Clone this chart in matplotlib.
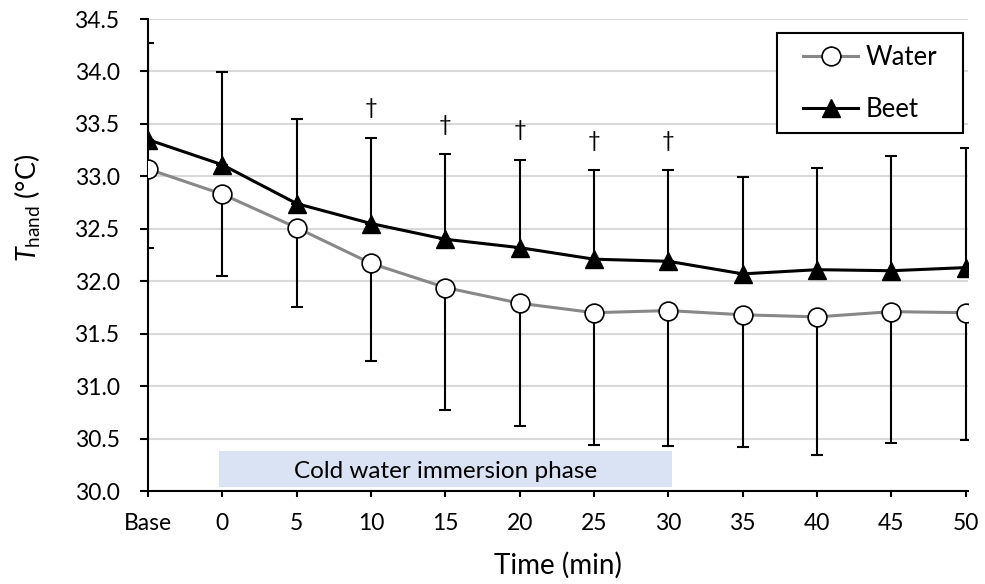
import numpy as np
import matplotlib
matplotlib.use("Agg")
import matplotlib.pyplot as plt
from matplotlib.patches import Rectangle

plt.rcParams["font.family"] = ["Lato", "DejaVu Sans"]
plt.rcParams["mathtext.fontset"] = "custom"
plt.rcParams["mathtext.rm"] = "Lato"
plt.rcParams["mathtext.it"] = "Lato:italic"

# ── Data ─────────────────────────────────────────────────────────────────────
time_labels = ["Base", "0", "5", "10", "15", "20", "25", "30", "35", "40", "45", "50"]
water_mean = [33.07, 32.83, 32.51, 32.17, 31.94, 31.79, 31.70, 31.72, 31.68, 31.66, 31.71, 31.70]
water_lower = [32.32, 32.05, 31.75, 31.24, 30.77, 30.62, 30.44, 30.43, 30.42, 30.34, 30.46, 30.49]
beet_mean = [33.35, 33.11, 32.74, 32.55, 32.40, 32.32, 32.21, 32.19, 32.07, 32.11, 32.10, 32.13]
beet_upper = [34.27, 33.99, 33.55, 33.37, 33.21, 33.16, 33.06, 33.06, 32.99, 33.08, 33.19, 33.27]
dagger_at = ["10", "15", "20", "25", "30"]
phase_start, phase_end = "0", "30"

x = np.arange(len(time_labels))
water_err = np.array(water_mean) - np.array(water_lower)
beet_err = np.array(beet_upper) - np.array(beet_mean)

GRAY = "#888888"

fig = plt.figure(figsize=(9.85, 5.84), dpi=100)
ax = fig.add_axes([148 / 985, 1 - 491 / 584, 820 / 985, 472 / 584])

# gridlines
ax.set_ylim(30.0, 34.5)
ax.set_xlim(0, len(time_labels) - 1 + 0.03)
ax.set_yticks(np.arange(30.0, 34.51, 0.5))
ax.yaxis.grid(True, color="#d9d9d9", lw=1.5)
ax.set_axisbelow(True)

# cold water immersion phase box
i0, i1 = time_labels.index(phase_start), time_labels.index(phase_end)
ax.add_patch(Rectangle((i0 - 0.045, 30.04), (i1 - i0) + 0.09, 0.34,
                       facecolor="#dae3f3", edgecolor="none", zorder=1))
ax.text((i0 + i1) / 2, 30.19, "Cold water immersion phase", ha="center", va="center",
        fontsize=17.5, zorder=2)

# error bars (one-sided: water down, beet up)
ax.errorbar(x, water_mean, yerr=[water_err, np.zeros_like(water_err)], fmt="none",
            ecolor="black", elinewidth=1.5, capsize=4, capthick=1.5, zorder=3)
ax.errorbar(x, beet_mean, yerr=[np.zeros_like(beet_err), beet_err], fmt="none",
            ecolor="black", elinewidth=1.5, capsize=4, capthick=1.5, zorder=3)

# series
ax.plot(x, water_mean, color=GRAY, lw=2.2, marker="o", ms=13.5, mfc="white",
        mec="black", mew=1.2, label="Water", zorder=4)
ax.plot(x, beet_mean, color="black", lw=2.2, marker="^", ms=13, mfc="black",
        mec="black", label="Beet", zorder=5)

# significance daggers
for lab in dagger_at:
    i = time_labels.index(lab)
    ax.text(i, beet_upper[i] + 0.28, "\u2020", ha="center", va="center", fontsize=16)

# axes styling
ax.set_xticks(x)
ax.set_xticklabels(time_labels)
for s in ["top", "right"]:
    ax.spines[s].set_visible(False)
for s in ["left", "bottom"]:
    ax.spines[s].set_linewidth(1.5)
ax.tick_params(axis="y", length=5.5, width=1.5, pad=15, labelsize=16.5)
ax.tick_params(axis="x", length=4.5, width=1.5, pad=11, labelsize=16.5)
ax.set_yticklabels([f"{v:.1f}" for v in ax.get_yticks()])

ax.set_xlabel("Time (min)", fontsize=20, labelpad=13)
ax.set_ylabel(r"$T_{\mathrm{hand}}$ (°C)", fontsize=19.5)
ax.yaxis.label.set_va("center")
ax.yaxis.set_label_coords(-0.146, 0.60)

# legend: frame drawn separately so side padding can be wider than top/bottom
ax.add_patch(Rectangle((0.767, 0.758), 0.227, 0.212, transform=ax.transAxes,
                       facecolor="white", edgecolor="black", lw=1.5, zorder=6))
leg = ax.legend(loc="upper right", bbox_to_anchor=(0.962, 0.945), borderaxespad=0,
                fontsize=18.5, frameon=False, handlelength=2.15, handletextpad=0.27,
                labelspacing=1.05, borderpad=0)
leg.set_zorder(7)

fig.savefig("out.png", dpi=100)
